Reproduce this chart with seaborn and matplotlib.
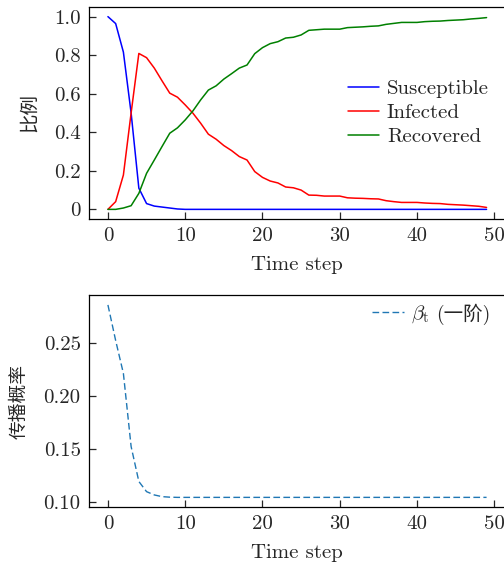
import numpy as np
import pandas as pd
import matplotlib
matplotlib.use("Agg")
import matplotlib.pyplot as plt
import seaborn as sns

# ---- data ----
time_steps = list(range(50))
susceptible = [1.0, 0.964, 0.816, 0.50, 0.11, 0.030, 0.017, 0.012, 0.007, 0.002] + [0.0] * 40
infected = [0.0, 0.04, 0.178, 0.50, 0.809, 0.787, 0.733, 0.667, 0.603, 0.582,
            0.542, 0.499, 0.447, 0.39, 0.364, 0.331, 0.305, 0.274, 0.256, 0.196,
            0.166, 0.147, 0.137, 0.116, 0.112, 0.10, 0.074, 0.073, 0.069, 0.069,
            0.069, 0.060, 0.058, 0.057, 0.055, 0.054, 0.045, 0.040, 0.036, 0.036,
            0.036, 0.033, 0.031, 0.030, 0.026, 0.024, 0.022, 0.019, 0.016, 0.010]
recovered = [0.0, 0.0, 0.007, 0.019, 0.083, 0.187, 0.256, 0.326, 0.395, 0.423,
             0.464, 0.511, 0.568, 0.619, 0.641, 0.676, 0.704, 0.733, 0.749, 0.808,
             0.839, 0.86, 0.87, 0.889, 0.893, 0.905, 0.929, 0.932, 0.935, 0.935,
             0.935, 0.943, 0.945, 0.947, 0.95, 0.952, 0.96, 0.965, 0.97, 0.97,
             0.97, 0.974, 0.976, 0.977, 0.98, 0.982, 0.984, 0.988, 0.991, 0.995]
beta_t = [0.2856, 0.252, 0.221, 0.152, 0.119, 0.1094, 0.1063, 0.1047, 0.1042] + [0.1040] * 41

series_names = ["Susceptible", "Infected", "Recovered"]
series_colors = ["#0000ff", "#ff0000", "#008000"]
beta_label = r"$\beta_{\mathrm{t}}$"
beta_suffix = "(一阶)"
x_ticks = [0, 10, 20, 30, 40, 50]
y1_ticks = [0, 0.2, 0.4, 0.6, 0.8, 1.0]
y1_labels = ["0", "0.2", "0.4", "0.6", "0.8", "1.0"]
y2_ticks = [0.10, 0.15, 0.20, 0.25]
y2_labels = ["0.10", "0.15", "0.20", "0.25"]

FAM = ["cmr10", "Noto Sans CJK SC", "DejaVu Sans"]
sns.set_style("white")
plt.rcParams["font.family"] = FAM
plt.rcParams["mathtext.fontset"] = "cm"
plt.rcParams["axes.unicode_minus"] = False
plt.rcParams["axes.linewidth"] = 0.9
plt.rcParams["axes.edgecolor"] = "black"

FS = 15

df = pd.DataFrame({
    "t": time_steps * 3,
    "value": susceptible + infected + recovered,
    "series": sum([[n] * len(time_steps) for n in series_names], []),
})
df_beta = pd.DataFrame({"t": time_steps, "beta": beta_t})

W, H = 504, 563
fig = plt.figure(figsize=(W / 100, H / 100), dpi=100)
left = 89 / W
width = (505.5 - 89) / W
ax1 = fig.add_axes([left, 1 - 219 / H, width, (219 - 7) / H])
ax2 = fig.add_axes([left, 1 - 507 / H, width, (507 - 295.3) / H])

sns.lineplot(data=df, x="t", y="value", hue="series", hue_order=series_names,
             palette=series_colors, linewidth=1.1, ax=ax1)
ax1.legend(loc="center right", frameon=False, fontsize=FS, handlelength=1.47,
           handletextpad=0.4, labelspacing=0.25, borderaxespad=0.4)

sns.lineplot(data=df_beta, x="t", y="beta", color="#1f77b4", linewidth=1.0,
             linestyle="--", ax=ax2, label=beta_label)
ax2.lines[0].set_dashes([4.8, 2.4])
leg2 = ax2.legend(loc="upper right", frameon=False, fontsize=FS, handlelength=1.54,
                  handletextpad=0.34, borderaxespad=0.0, bbox_to_anchor=(1.0, 1.0))

for ax in (ax1, ax2):
    ax.set_xticks(x_ticks)
    ax.set_xticklabels([str(v) for v in x_ticks])
    ax.set_xlabel("Time step", fontsize=FS, labelpad=8)
    ax.tick_params(direction="in", length=5, width=0.9, labelsize=FS,
                   left=True, bottom=True, top=False, right=False, pad=6)
    for s in ax.spines.values():
        s.set_color("black")

ax1.set_yticks(y1_ticks)
ax1.set_yticklabels(y1_labels)
ax1.set_ylabel("比例", fontsize=14, labelpad=11)
ax2.set_yticks(y2_ticks)
ax2.set_yticklabels(y2_labels)
ax2.set_ylabel("传播概率", fontsize=13.5, labelpad=11)

# place the beta legend so that its math text ends near x=430 px, then add the CJK suffix
fig.canvas.draw()
r = fig.canvas.get_renderer()
tb = leg2.get_texts()[0].get_window_extent(r)
delta = 430 - tb.x1
leg2.set_bbox_to_anchor((1.0 + delta / ax2.bbox.width, 1.0), transform=ax2.transAxes)
fig.canvas.draw()
tb = leg2.get_texts()[0].get_window_extent(r)
fig.text((tb.x1 + 6) / W, (tb.y0 + tb.y1) / 2 / H, beta_suffix, ha="left", va="center",
         fontsize=14, family=FAM)

fig.savefig("out.png", dpi=100)
